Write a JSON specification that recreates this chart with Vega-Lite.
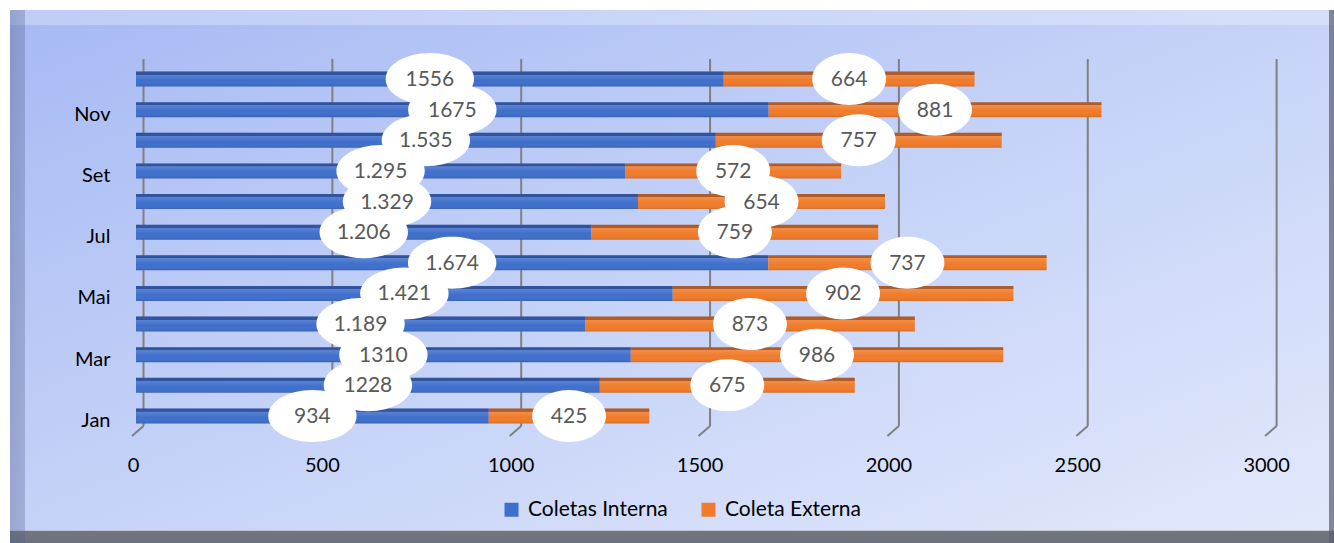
{
  "$schema": "https://vega.github.io/schema/vega-lite/v6.json",
  "width": 1324,
  "height": 533,
  "autosize": {"type": "none"},
  "padding": {"left": 10, "top": 10, "right": 0, "bottom": 0},
  "background": "#ffffff",
  "config": {
    "font": "Lato",
    "view": {"stroke": null},
    "axis": {"labelFont": "Lato", "labelFontSize": 20, "labelColor": "#000000", "title": null, "zindex": 1}
  },
  "datasets": {
    "meses": [
      {"mes": "Dez", "serie": "Coletas Interna", "valor": 1556, "rotulo": "1556"},
      {"mes": "Dez", "serie": "Coleta Externa", "valor": 664, "rotulo": "664"},
      {"mes": "Nov", "serie": "Coletas Interna", "valor": 1675, "rotulo": "1675"},
      {"mes": "Nov", "serie": "Coleta Externa", "valor": 881, "rotulo": "881"},
      {"mes": "Out", "serie": "Coletas Interna", "valor": 1535, "rotulo": "1.535"},
      {"mes": "Out", "serie": "Coleta Externa", "valor": 757, "rotulo": "757"},
      {"mes": "Set", "serie": "Coletas Interna", "valor": 1295, "rotulo": "1.295"},
      {"mes": "Set", "serie": "Coleta Externa", "valor": 572, "rotulo": "572"},
      {"mes": "Ago", "serie": "Coletas Interna", "valor": 1329, "rotulo": "1.329"},
      {"mes": "Ago", "serie": "Coleta Externa", "valor": 654, "rotulo": "654"},
      {"mes": "Jul", "serie": "Coletas Interna", "valor": 1206, "rotulo": "1.206"},
      {"mes": "Jul", "serie": "Coleta Externa", "valor": 759, "rotulo": "759"},
      {"mes": "Jun", "serie": "Coletas Interna", "valor": 1674, "rotulo": "1.674"},
      {"mes": "Jun", "serie": "Coleta Externa", "valor": 737, "rotulo": "737"},
      {"mes": "Mai", "serie": "Coletas Interna", "valor": 1421, "rotulo": "1.421"},
      {"mes": "Mai", "serie": "Coleta Externa", "valor": 902, "rotulo": "902"},
      {"mes": "Abr", "serie": "Coletas Interna", "valor": 1189, "rotulo": "1.189"},
      {"mes": "Abr", "serie": "Coleta Externa", "valor": 873, "rotulo": "873"},
      {"mes": "Mar", "serie": "Coletas Interna", "valor": 1310, "rotulo": "1310"},
      {"mes": "Mar", "serie": "Coleta Externa", "valor": 986, "rotulo": "986"},
      {"mes": "Fev", "serie": "Coletas Interna", "valor": 1228, "rotulo": "1228"},
      {"mes": "Fev", "serie": "Coleta Externa", "valor": 675, "rotulo": "675"},
      {"mes": "Jan", "serie": "Coletas Interna", "valor": 934, "rotulo": "934"},
      {"mes": "Jan", "serie": "Coleta Externa", "valor": 425, "rotulo": "425"}
    ],
    "grade": [{"v": 0}, {"v": 500}, {"v": 1000}, {"v": 1500}, {"v": 2000}, {"v": 2500}, {"v": 3000}],
    "fundo": [{}]
  },
  "data": {"name": "meses"},
  "layer": [
    {
      "data": {"name": "fundo"},
      "mark": {
        "type": "rect",
        "color": {
          "gradient": "linear", "x1": 0, "y1": 0, "x2": 1, "y2": 1,
          "stops": [
            {"offset": 0, "color": "#a6b9f3"},
            {"offset": 0.5, "color": "#c6d3f8"},
            {"offset": 1, "color": "#e3e9fc"}
          ]
        }
      },
      "encoding": {}
    },
    {
      "data": {"name": "fundo"},
      "mark": {
        "type": "rect",
        "color": {
          "gradient": "linear", "x1": 0, "y1": 0, "x2": 0, "y2": 1,
          "stops": [
            {"offset": 0, "color": "rgba(255,255,255,0.28)"},
            {"offset": 0.028, "color": "rgba(255,255,255,0.28)"},
            {"offset": 0.029, "color": "rgba(255,255,255,0)"},
            {"offset": 0.976, "color": "rgba(255,255,255,0)"},
            {"offset": 0.977, "color": "#72767f"},
            {"offset": 1, "color": "#6c707a"}
          ]
        }
      },
      "encoding": {}
    },
    {
      "data": {"name": "fundo"},
      "mark": {
        "type": "rect",
        "color": {
          "gradient": "linear", "x1": 0, "y1": 0, "x2": 1, "y2": 0,
          "stops": [
            {"offset": 0, "color": "rgba(80,95,140,0.38)"},
            {"offset": 0.0112, "color": "rgba(80,95,140,0.30)"},
            {"offset": 0.0113, "color": "rgba(80,95,140,0)"},
            {"offset": 0.9965, "color": "rgba(80,95,140,0)"},
            {"offset": 0.9966, "color": "rgba(90,95,110,0.7)"},
            {"offset": 1, "color": "rgba(90,95,110,0.7)"}
          ]
        }
      },
      "encoding": {}
    },
    {
      "data": {"name": "grade"},
      "mark": {"type": "rule", "color": "#808080", "strokeWidth": 2, "xOffset": 7.5, "x2Offset": 7.5, "yOffset": -20, "y2Offset": 10},
      "encoding": {
        "x": {"field": "v", "type": "quantitative"},
        "y": {"datum": "Dez", "type": "nominal"},
        "y2": {"datum": "Jan"}
      }
    },
    {
      "data": {"name": "grade"},
      "mark": {"type": "rule", "color": "#808080", "strokeWidth": 2, "xOffset": 7.5, "x2Offset": -4, "yOffset": 10, "y2Offset": 20},
      "encoding": {
        "x": {"field": "v", "type": "quantitative"},
        "x2": {"field": "v"},
        "y": {"datum": "Jan", "type": "nominal"},
        "y2": {"datum": "Jan"}
      }
    },
    {
      "mark": {"type": "bar", "size": 15},
      "encoding": {
        "y": {
          "field": "mes", "type": "nominal",
          "scale": {
            "domain": ["Dez", "Nov", "Out", "Set", "Ago", "Jul", "Jun", "Mai", "Abr", "Mar", "Fev", "Jan"],
            "range": [53.7, 421.3], "paddingInner": 0.5, "paddingOuter": 0.25
          },
          "axis": {
            "orient": "left", "offset": -100, "domain": false, "ticks": false, "tickSize": 0,
            "labelPadding": 0, "labelOffset": 5, "grid": false, "zindex": 2,
            "labelExpr": "indexof(['Jan','Mar','Mai','Jul','Set','Nov'], datum.value) >= 0 ? datum.value : ''"
          }
        },
        "x": {
          "field": "valor", "type": "quantitative", "stack": "zero",
          "scale": {"domain": [-333.6, 3171.8], "nice": false, "zero": false},
          "axis": {
            "orient": "bottom", "offset": -90, "values": [0, 500, 1000, 1500, 2000, 2500, 3000], "format": "d",
            "domain": false, "ticks": false, "tickSize": 0, "grid": false, "labelPadding": 2, "labelOffset": -3, "zindex": 2
          }
        },
        "color": {
          "field": "serie", "type": "nominal",
          "scale": {"domain": ["Coletas Interna", "Coleta Externa"], "range": ["#3f6fcc", "#f07b2a"]},
          "legend": {
            "title": null, "orient": "none", "direction": "horizontal", "legendX": 491, "legendY": 489,
            "symbolType": "square", "symbolSize": 196, "symbolStrokeWidth": 0, "labelFont": "Lato",
            "labelFontSize": 21, "labelColor": "#000000", "labelOffset": 6, "columnPadding": 30, "padding": 0,
            "zindex": 2
          }
        },
        "order": {"field": "serie", "sort": "descending"}
      }
    },
    {
      "mark": {
        "type": "bar", "size": 15,
        "color": {
          "gradient": "linear", "x1": 0, "y1": 0, "x2": 0, "y2": 1,
          "stops": [
            {"offset": 0, "color": "rgba(20,20,50,0.30)"},
            {"offset": 0.2, "color": "rgba(20,20,50,0.30)"},
            {"offset": 0.21, "color": "rgba(255,255,255,0.14)"},
            {"offset": 0.6, "color": "rgba(255,255,255,0.0)"},
            {"offset": 1, "color": "rgba(0,0,0,0.10)"}
          ]
        }
      },
      "encoding": {
        "y": {"field": "mes", "type": "nominal"},
        "x": {"field": "valor", "type": "quantitative", "stack": "zero"},
        "detail": {"field": "serie"},
        "order": {"field": "serie", "sort": "descending"}
      }
    },
    {
      "mark": {"type": "point", "filled": true, "color": "#ffffff", "opacity": 1, "size": 2704, "strokeWidth": 0},
      "encoding": {
        "y": {"field": "mes", "type": "nominal"},
        "x": {"field": "valor", "type": "quantitative", "stack": "zero", "bandPosition": 0.5},
        "detail": {"field": "serie"},
        "shape": {
          "condition": {"test": "datum.serie === 'Coletas Interna'", "value": "M-1.7,0A1.7,1,0,1,0,1.7,0A1.7,1,0,1,0,-1.7,0Z"},
          "value": "M-1.42,0A1.42,1,0,1,0,1.42,0A1.42,1,0,1,0,-1.42,0Z"
        },
        "order": {"field": "serie", "sort": "descending"}
      }
    },
    {
      "mark": {"type": "text", "font": "Lato", "fontSize": 21, "color": "#595959", "align": "center", "baseline": "middle", "dy": 1},
      "encoding": {
        "y": {"field": "mes", "type": "nominal"},
        "x": {"field": "valor", "type": "quantitative", "stack": "zero", "bandPosition": 0.5},
        "detail": {"field": "serie"},
        "text": {"field": "rotulo"},
        "order": {"field": "serie", "sort": "descending"}
      }
    }
  ]
}
